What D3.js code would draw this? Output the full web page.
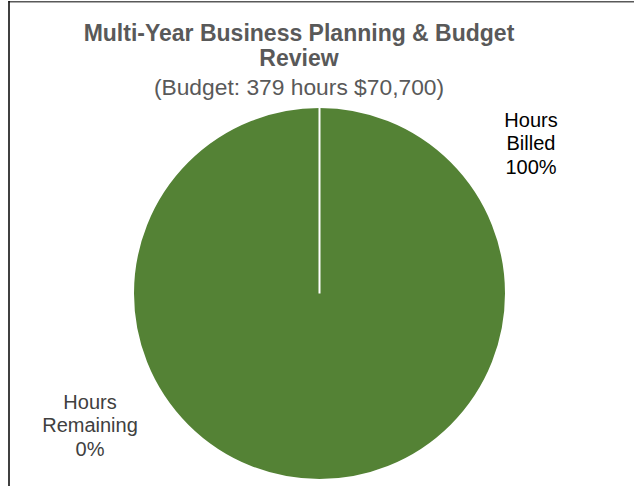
<!DOCTYPE html>
<html>
<head>
<meta charset="utf-8">
<script src="https://cdn.jsdelivr.net/npm/d3@7"></script>
<style>
  html, body { margin: 0; padding: 0; background: #fff; }
  svg { display: block; font-family: "Liberation Sans", Arial, sans-serif; }
</style>
</head>
<body>
<svg id="chart" width="634" height="486"></svg>
<script>
// Hours for the engagement, split into billed vs. remaining
const categories = ["Hours Billed", "Hours Remaining"];
const hoursValues = [379, 0];
const titleLines = ["Multi-Year Business Planning & Budget", "Review"];
const subtitle = "(Budget: 379 hours $70,700)";

const W = 634, H = 486;
const svg = d3.select("#chart");

// chart frame (left and top edges)
svg.append("line").attr("x1", 8.5).attr("x2", 634).attr("y1", 1.75).attr("y2", 1.75)
  .attr("stroke", "#595959").attr("stroke-width", 1.5);
svg.append("line").attr("x1", 9).attr("x2", 9).attr("y1", 1).attr("y2", H)
  .attr("stroke", "#000").attr("stroke-width", 1.5);

// title block
const titleX = 299;
svg.selectAll("text.title").data(titleLines).join("text")
  .attr("class", "title")
  .attr("x", titleX).attr("y", (d, i) => 41 + i * 25)
  .attr("text-anchor", "middle")
  .attr("font-size", 23).attr("font-weight", "bold").attr("fill", "#595959")
  .text(d => d);
svg.append("text")
  .attr("x", titleX).attr("y", 95)
  .attr("text-anchor", "middle")
  .attr("font-size", 22.8).attr("fill", "#595959")
  .text(subtitle);

// pie
const cx = 319.5, cy = 293.5, r = 186.5;
const total = d3.sum(hoursValues);
const pie = d3.pie().sort(null).value(d => d)(hoursValues);
const arc = d3.arc().innerRadius(0).outerRadius(r);
const color = d3.scaleOrdinal().domain(categories).range(["#548235", "#A9D18E"]);

const g = svg.append("g").attr("transform", `translate(${cx},${cy})`);
g.selectAll("path").data(pie).join("path")
  .attr("d", arc)
  .attr("fill", (d, i) => color(categories[i]))
  .attr("stroke", "#fff")
  .attr("stroke-width", 2)
  .attr("stroke-linejoin", "miter");

// data labels
const fmt = v => Math.round(100 * v / total) + "%";
const labelPos = [
  { x: 531, y: 127, fill: "#000" },
  { x: 90, y: 409, fill: "#404040" }
];
categories.forEach((c, i) => {
  const words = c.split(" ");
  const lines = [words[0], words.slice(1).join(" "), fmt(hoursValues[i])];
  svg.append("text")
    .attr("text-anchor", "middle")
    .attr("font-size", 20)
    .attr("fill", labelPos[i].fill)
    .selectAll("tspan").data(lines).join("tspan")
    .attr("x", labelPos[i].x)
    .attr("y", (d, k) => labelPos[i].y + k * 23.3)
    .text(d => d);
});
</script>
</body>
</html>
